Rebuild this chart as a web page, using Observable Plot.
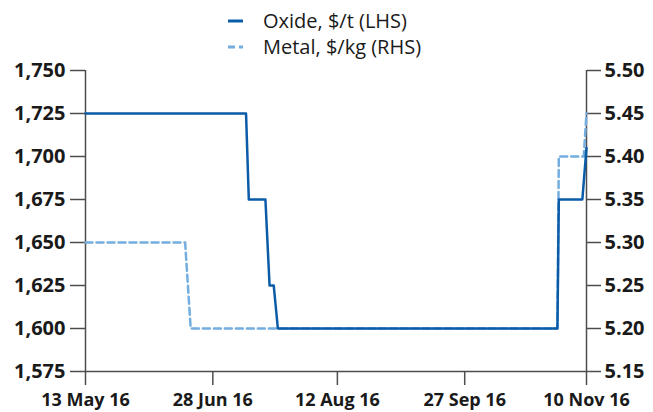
<!DOCTYPE html>
<html>
<head>
<meta charset="utf-8">
<script src="https://cdn.jsdelivr.net/npm/d3@7"></script>
<script src="https://cdn.jsdelivr.net/npm/@observablehq/plot@0.6"></script>
<style>
  html, body { margin: 0; padding: 0; background: #fff; }
  #wrap { position: relative; width: 653px; height: 412px; overflow: hidden; font-family: "Open Sans", sans-serif; }
  #legend { position: relative; width: 653px; height: 44px; z-index: 2; }
  .item { position: absolute; left: 228px; display: flex; align-items: center; font-size: 20px; line-height: 26px; color: #1a1a1a; white-space: nowrap; }
  .item svg { margin-right: 20px; }
  #chart svg { display: block; overflow: visible; }
</style>
</head>
<body>
<div id="wrap">
  <div id="legend"></div>
  <div id="chart"></div>
</div>
<script>
// Series names and colours
const seriesNames = ["Oxide, $/t (LHS)", "Metal, $/kg (RHS)"];
const seriesColors = ["#0b5ca8", "#74addf"];

// Oxide price, $/t (left axis)
const oxideDates = ["2016-05-13", "2016-07-10", "2016-07-11", "2016-07-17", "2016-07-18T12:00", "2016-07-20", "2016-07-21T12:00", "2016-10-30T12:00", "2016-10-31", "2016-11-08T12:00", "2016-11-10"];
const oxideValues = [1725, 1725, 1675, 1675, 1625, 1625, 1600, 1600, 1675, 1675, 1705];

// Metal price, $/kg (right axis)
const metalDates = ["2016-05-13", "2016-06-18", "2016-06-20", "2016-10-30T12:00", "2016-10-31", "2016-11-09", "2016-11-10"];
const metalValues = [5.30, 5.30, 5.20, 5.20, 5.40, 5.40, 5.45];

// Axis ticks
const leftTicks = [1575, 1600, 1625, 1650, 1675, 1700, 1725, 1750];
const rightTicks = [5.15, 5.20, 5.25, 5.30, 5.35, 5.40, 5.45, 5.50];
const xTickDates = ["2016-05-13", "2016-06-28", "2016-08-12", "2016-09-27", "2016-11-10"];
const xDomain = ["2016-05-13", "2016-11-10"];

// Right axis mapped onto left scale
const lMin = 1575, lMax = 1750, rMin = 5.15, rMax = 5.50;
const toLeft = v => lMin + (v - rMin) * (lMax - lMin) / (rMax - rMin);
const toRight = v => rMin + (v - lMin) * (rMax - rMin) / (lMax - lMin);

const parse = s => new Date(s.length === 10 ? s + "T00:00:00Z" : s + ":00Z");

const oxide = oxideDates.map((d, i) => ({date: parse(d), value: oxideValues[i]}));
const metal = metalDates.map((d, i) => ({date: parse(d), value: toLeft(metalValues[i])}));
const xTicks = xTickDates.map(parse);
const x0 = parse(xDomain[0]), x1 = parse(xDomain[1]);

// Legend
const legend = document.getElementById("legend");
seriesNames.forEach((name, i) => {
  const div = document.createElement("div");
  div.className = "item";
  div.style.top = (i === 0 ? 8 : 34) + "px";
  const dash = i === 1 ? 'stroke-dasharray="7,4"' : "";
  div.innerHTML = `<svg width="15" height="4"><line x1="0" x2="15" y1="2" y2="2" stroke="${seriesColors[i]}" stroke-width="3" ${dash}/></svg><span>${name}</span>`;
  legend.appendChild(div);
});

const axisColor = "#4d4d4d";
const chart = Plot.plot({
  width: 653,
  height: 368,
  marginTop: 26,
  marginBottom: 41,
  marginLeft: 85,
  marginRight: 67,
  style: {fontFamily: "Open Sans", fontSize: "20px", fontWeight: "bold", color: "#1a1a1a", background: "transparent"},
  x: {type: "utc", domain: [x0, x1]},
  y: {domain: [lMin, lMax]},
  marks: [
    Plot.axisX({ticks: xTicks, tickFormat: d3.utcFormat("%-d %b %y"), tickSize: 14, tickPadding: 8, stroke: axisColor, strokeWidth: 1.5, fill: "#1a1a1a", fontWeight: "bold", fontSize: 18, label: null}),
    Plot.axisY({anchor: "left", ticks: leftTicks, tickFormat: d3.format(","), tickSize: 15, tickPadding: 5, stroke: axisColor, strokeWidth: 1.5, fill: "#1a1a1a", fontWeight: "bold", label: null}),
    Plot.axisY({anchor: "right", ticks: rightTicks.map(toLeft), tickFormat: t => toRight(t).toFixed(2), tickSize: 14, tickPadding: 4, stroke: axisColor, strokeWidth: 1.5, fill: "#1a1a1a", fontWeight: "bold", label: null}),
    Plot.ruleX([x0, x1], {y1: lMin, y2: lMax, stroke: axisColor, strokeWidth: 1.5}),
    Plot.ruleY([lMin], {stroke: axisColor, strokeWidth: 1.5}),
    Plot.line(metal, {x: "date", y: "value", stroke: seriesColors[1], strokeWidth: 2.5, strokeDasharray: "7,4"}),
    Plot.line(oxide, {x: "date", y: "value", stroke: seriesColors[0], strokeWidth: 2.5})
  ]
});
document.getElementById("chart").appendChild(chart);
</script>
</body>
</html>
